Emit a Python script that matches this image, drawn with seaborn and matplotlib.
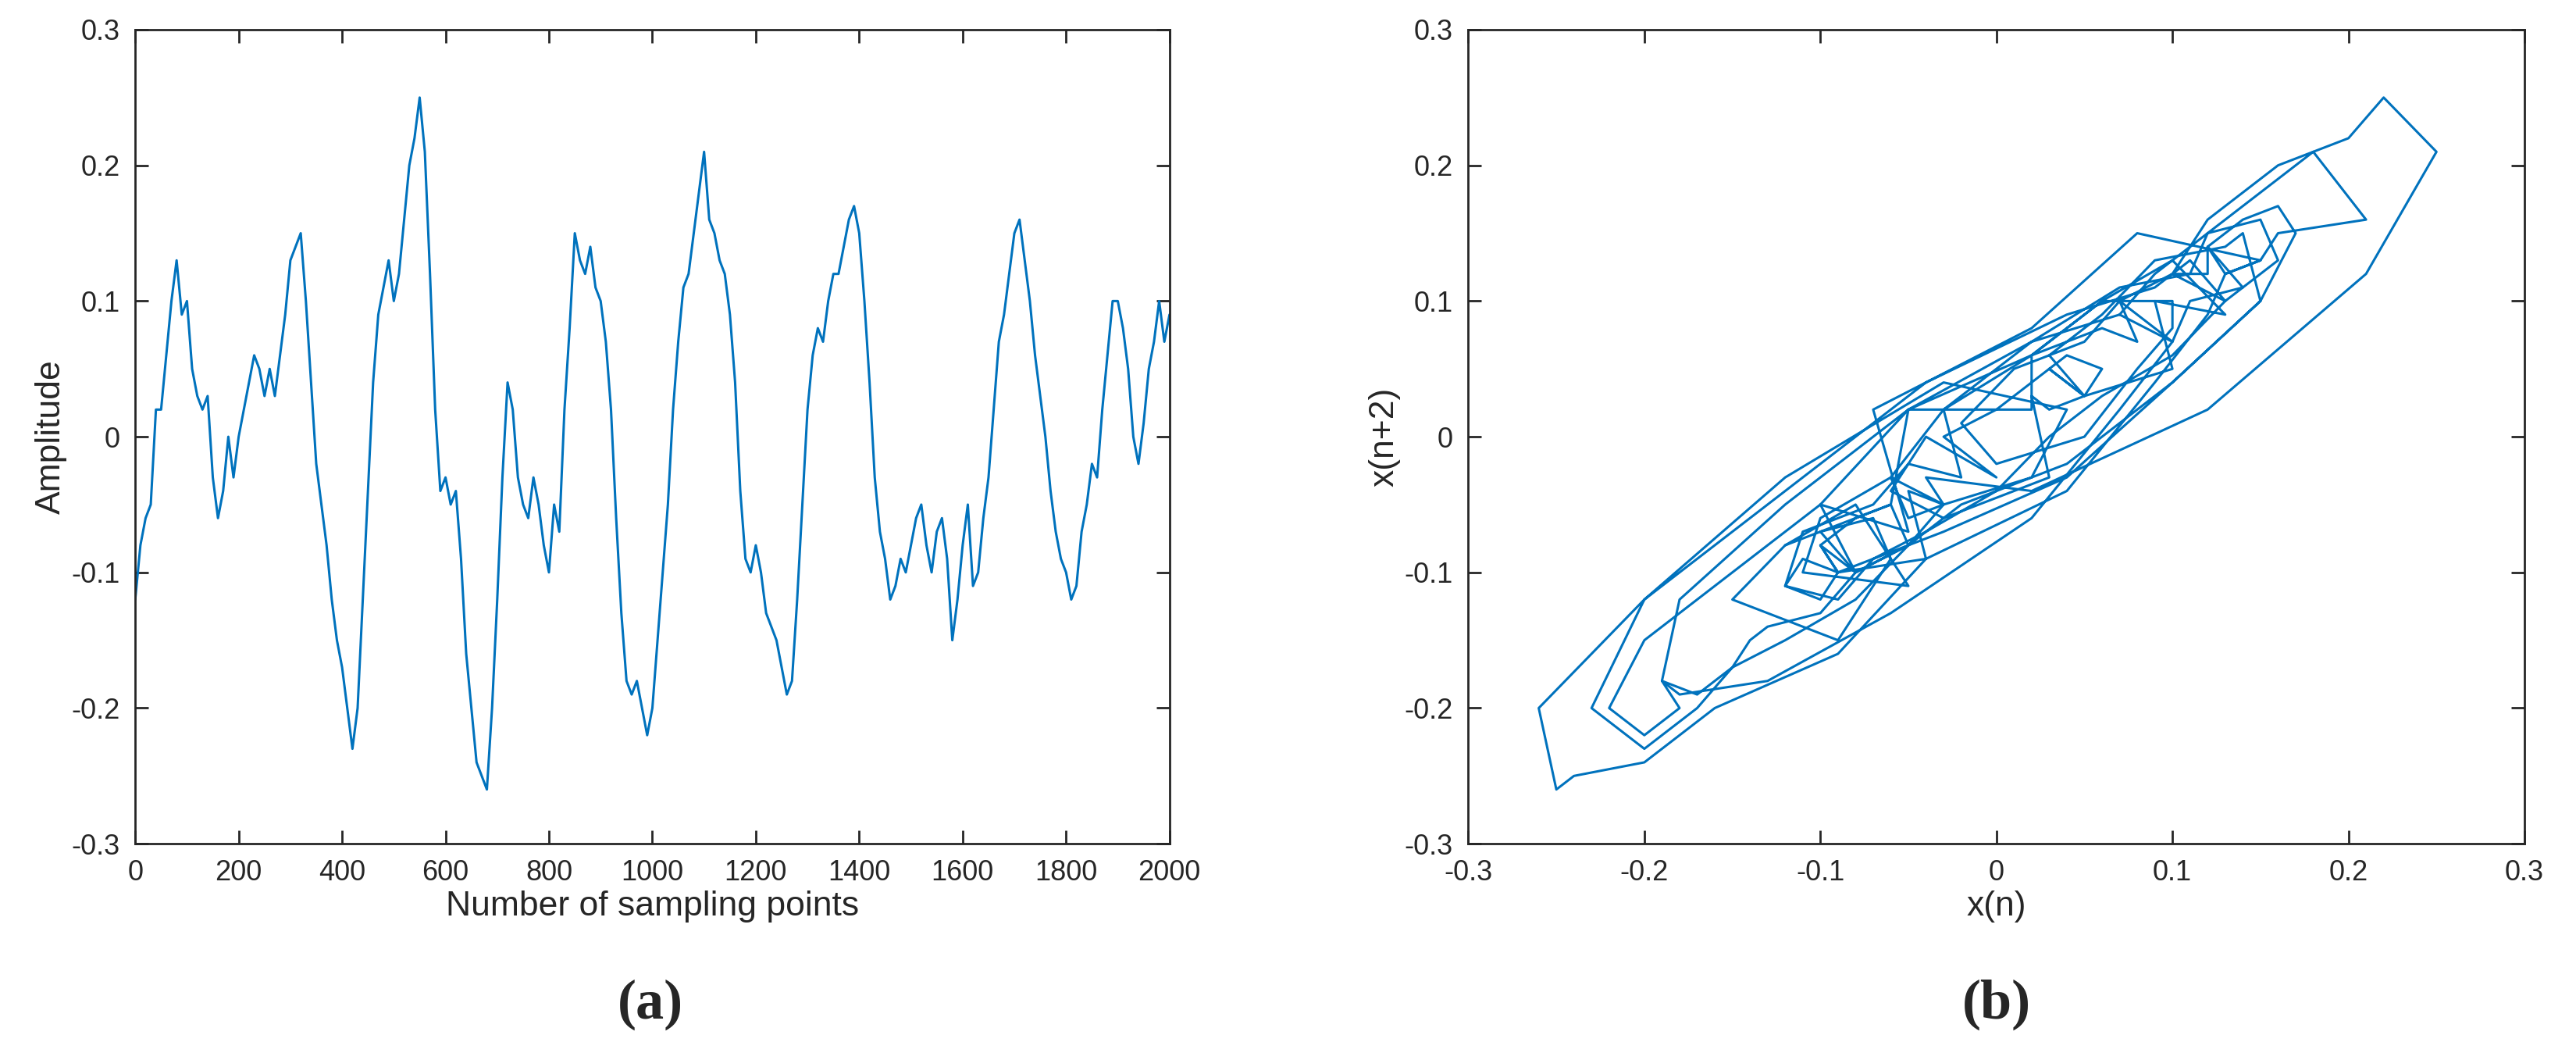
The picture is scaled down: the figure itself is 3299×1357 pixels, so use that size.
import numpy as np
import matplotlib
matplotlib.use("Agg")
import matplotlib.pyplot as plt
import seaborn as sns

sample_idx = list(range(0, 2001, 10))
amplitude = [
-0.12,-0.08,-0.06,-0.05,0.02,0.02,0.06,0.10,0.13,0.09,0.10,0.05,0.03,0.02,0.03,-0.03,-0.06,-0.04,0.00,-0.03,
0.00,0.02,0.04,0.06,0.05,0.03,0.05,0.03,0.06,0.09,0.13,0.14,0.15,0.10,0.04,-0.02,-0.05,-0.08,-0.12,-0.15,
-0.17,-0.20,-0.23,-0.20,-0.12,-0.04,0.04,0.09,0.11,0.13,0.10,0.12,0.16,0.20,0.22,0.25,0.21,0.12,0.02,-0.04,
-0.03,-0.05,-0.04,-0.09,-0.16,-0.20,-0.24,-0.25,-0.26,-0.20,-0.12,-0.03,0.04,0.02,-0.03,-0.05,-0.06,-0.03,-0.05,-0.08,
-0.10,-0.05,-0.07,0.02,0.08,0.15,0.13,0.12,0.14,0.11,0.10,0.07,0.02,-0.06,-0.13,-0.18,-0.19,-0.18,-0.20,-0.22,
-0.20,-0.15,-0.10,-0.05,0.02,0.07,0.11,0.12,0.15,0.18,0.21,0.16,0.15,0.13,0.12,0.09,0.04,-0.04,-0.09,-0.10,
-0.08,-0.10,-0.13,-0.14,-0.15,-0.17,-0.19,-0.18,-0.12,-0.05,0.02,0.06,0.08,0.07,0.10,0.12,0.12,0.14,0.16,0.17,
0.15,0.10,0.04,-0.03,-0.07,-0.09,-0.12,-0.11,-0.09,-0.10,-0.08,-0.06,-0.05,-0.08,-0.10,-0.07,-0.06,-0.09,-0.15,-0.12,
-0.08,-0.05,-0.11,-0.10,-0.06,-0.03,0.02,0.07,0.09,0.12,0.15,0.16,0.13,0.10,0.06,0.03,0.00,-0.04,-0.07,-0.09,
-0.10,-0.12,-0.11,-0.07,-0.05,-0.02,-0.03,0.02,0.06,0.10,0.10,0.08,0.05,0.00,-0.02,0.01,0.05,0.07,0.10,0.07,
0.09]

sns.set_theme(style="white")
plt.rcParams['font.family'] = ['Liberation Sans', 'DejaVu Sans']
color = "#0072BD"
fig = plt.figure(figsize=(32.99, 13.57), dpi=100)
ax1 = fig.add_axes([0.0525, 0.204, 0.4015, 0.768])
ax2 = fig.add_axes([0.570, 0.204, 0.410, 0.768])

sns.lineplot(x=sample_idx, y=amplitude, ax=ax1, color=color, linewidth=2.2)
ax1.set_xlim(0, 2000); ax1.set_ylim(-0.3, 0.3)
ax1.set_xticks(range(0, 2001, 200))
ax1.set_yticks([-0.3, -0.2, -0.1, 0, 0.1, 0.2, 0.3])
ax1.set_yticklabels(["-0.3", "-0.2", "-0.1", "0", "0.1", "0.2", "0.3"])
ax1.set_xlabel("Number of sampling points", fontsize=32)
ax1.set_ylabel("Amplitude", fontsize=32)

xn = amplitude[:-1]
xn2 = amplitude[1:]
sns.lineplot(x=xn, y=xn2, ax=ax2, color=color, linewidth=2.2, sort=False, estimator=None)
ax2.set_xlim(-0.3, 0.3); ax2.set_ylim(-0.3, 0.3)
ticks = [-0.3, -0.2, -0.1, 0, 0.1, 0.2, 0.3]
labs = ["-0.3", "-0.2", "-0.1", "0", "0.1", "0.2", "0.3"]
ax2.set_xticks(ticks); ax2.set_xticklabels(labs)
ax2.set_yticks(ticks); ax2.set_yticklabels(labs)
ax2.set_xlabel("x(n)", fontsize=32)
ax2.set_ylabel("x(n+2)", fontsize=32)

for ax in (ax1, ax2):
    for s in ax.spines.values():
        s.set_color("#262626"); s.set_linewidth(2)
    ax.tick_params(direction="in", length=12, width=2, labelsize=26, colors="#262626",
                   top=True, right=True, bottom=True, left=True, pad=14)
    ax.xaxis.label.set_color("#262626"); ax.yaxis.label.set_color("#262626")

fig.text(0.2525, 0.052, "(a)", fontsize=52, family="Liberation Serif", weight="bold", ha="center", va="center")
fig.text(0.775, 0.052, "(b)", fontsize=52, family="Liberation Serif", weight="bold", ha="center", va="center")
fig.savefig("out.png", dpi=100)
